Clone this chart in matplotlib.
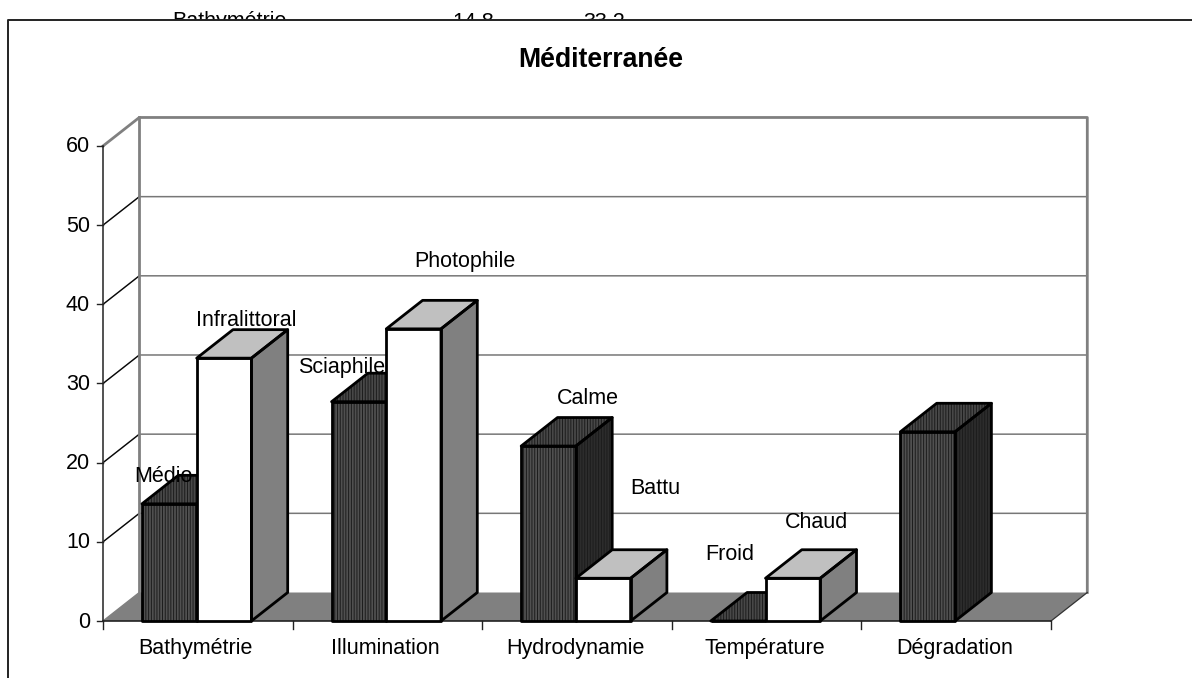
#Import libraries
import numpy as np
import matplotlib
matplotlib.use('Agg')
import matplotlib.pyplot as plt
from matplotlib.patches import Polygon, Rectangle

plt.rcParams['font.family'] = ['Liberation Sans', 'DejaVu Sans']
plt.rcParams['hatch.linewidth'] = 0.7

#Data
categories = ['Bathymétrie', 'Illumination', 'Hydrodynamie', 'Température', 'Dégradation']
dark_values = [14.8, 27.7, 22.1, 0, 23.9]
white_values = [33.2, 36.9, 5.4, 5.4, None]
y_ticks = [0, 10, 20, 30, 40, 50, 60]
title = 'Méditerranée'
hidden_row = ['Bathymétrie', '14.8', '33.2']

#Geometry, in pixels of the picture
W, H = 1192, 678
x0, y0 = 103, 621
cat_w = 189.6
unit = 7.917
px_dx, px_dy = 36.3, 28.5

fig = plt.figure(figsize=(W / 100, H / 100), dpi=100)
ax = fig.add_axes([0, 0, 1, 1])
ax.set_xlim(-x0 / cat_w, (W - x0) / cat_w)
ax.set_ylim((y0 - H) / unit, y0 / unit)
ax.axis('off')

dx = px_dx / cat_w
dy = px_dy / unit
bar_w = 54.7 / cat_w
gap = 39 / cat_w
top = y_ticks[-1]
n = len(categories)
fs = 15.5


def px(x, y):
    # position in pixels of the picture -> data
    return (x - x0) / cat_w, (y0 - y) / unit


#Text cut off above the frame
for s, xp in zip(hidden_row, [229, 473, 604]):
    ax.text(*px(xp, 22), s, ha='center', va='center', fontsize=fs, zorder=1)
ax.add_patch(Rectangle(px(8, 678), (W - 8) / cat_w, (678 - 20) / unit,
                       fc='white', ec='none', zorder=2))
ax.plot(*zip(px(8, 678), px(8, 20), px(1192, 20)), color='#222222', lw=1.4, zorder=3)

#Walls and floor
ax.add_patch(Polygon([(0, 0), (dx, dy), (n + dx, dy), (n, 0)], fc='#808080', ec='none', zorder=3))
for v in y_ticks[1:-1]:
    ax.plot([0, dx, n + dx], [v, v + dy, v + dy], color='#777777', lw=1.1, zorder=3)
    ax.plot([0, dx], [v, v + dy], color='black', lw=0.8, zorder=3)
ax.plot([0, dx, n + dx, n + dx], [top, top + dy, top + dy, dy], color='#808080', lw=2, zorder=3)
ax.plot([dx, dx], [dy, top + dy], color='#808080', lw=2, zorder=3)
ax.plot([n, n + dx], [0, dy], color='#333333', lw=0.9, zorder=3)
ax.plot([0, dx], [0, dy], color='#808080', lw=1, zorder=3)


#Axes and ticks
ax.plot([0, 0], [0, top], color='#333333', lw=1.2, zorder=4)
ax.plot([0, n], [0, 0], color='#222222', lw=1.2, zorder=4)
for v in y_ticks:
    ax.plot([-6 / cat_w, 0], [v, v], color='#222222', lw=1, zorder=4)
    ax.text(-13 / cat_w, v - 1 / unit, str(v), ha='right', va='center', fontsize=fs, zorder=9)
for i in range(n + 1):
    ax.plot([i, i], [0, -8 / unit], color='#222222', lw=1, zorder=4)
for i, c in enumerate(categories):
    ax.text(i + 0.49, -27.5 / unit, c, ha='center', va='center', fontsize=fs, zorder=9)


def draw_bar(x, v, front, roof, side, z, hatch=None):
    faces = [
        ([(x + bar_w, 0), (x + bar_w + dx, dy), (x + bar_w + dx, v + dy), (x + bar_w, v)], side),
        ([(x, v), (x + dx, v + dy), (x + bar_w + dx, v + dy), (x + bar_w, v)], roof),
        ([(x, 0), (x, v), (x + bar_w, v), (x + bar_w, 0)], front),
    ]
    for pts, col in faces:
        if hatch:
            ax.add_patch(Polygon(pts, fc=col, ec='#1c1c1c', hatch=hatch, lw=0, zorder=z))
        else:
            ax.add_patch(Polygon(pts, fc=col, ec='none', zorder=z))
        ax.add_patch(Polygon(pts, fc='none', ec='black', lw=2, joinstyle='round', zorder=z + 0.1))


#Bars, dark behind white in each group
for i in range(n):
    x = i + gap
    draw_bar(x, dark_values[i], '#505050', '#484848', '#2c2c2c', 5 + i, hatch='||||||')
    if white_values[i] is not None:
        draw_bar(x + bar_w, white_values[i], 'white', '#c0c0c0', '#808080', 5.5 + i)

#Labels
labels = ['Médio', 'Infralittoral', 'Sciaphile', 'Photophile', 'Calme', 'Battu', 'Froid', 'Chaud']
label_x = [163, 246, 342, 465, 588, 655, 730, 816]
label_y = [477, 321, 367, 262, 398, 488, 555, 523]
for s, xp, yp in zip(labels, label_x, label_y):
    ax.text(*px(xp, yp), s, ha='center', va='center', fontsize=fs, zorder=20)

ax.text(*px(601, 60), title, ha='center', va='center', fontsize=19.2, fontweight='bold', zorder=20)

plt.savefig('out.png', dpi=100)
